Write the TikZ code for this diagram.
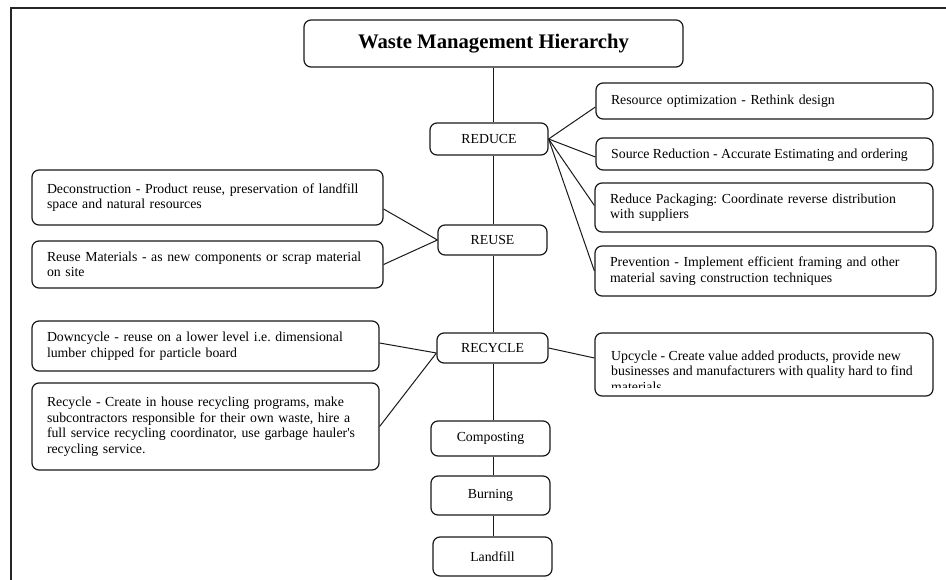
\documentclass[tikz,border=0pt]{standalone}
\usepackage{fontspec}
\setmainfont{Liberation Serif}
\frenchspacing
% straight apostrophe, set as a glyph so the TeX quote mapping leaves it alone
\newcommand\straightapos{\XeTeXglyph\XeTeXcharglyph"27\relax}
\begin{document}
\begin{tikzpicture}[x=1pt,y=-1pt,
  body/.style={font=\fontsize{13.8}{15.5}\selectfont\frenchspacing},
  box/.style={draw=black!90, line width=1.2pt, rounded corners=7pt,
    inner xsep=15pt, inner ysep=0pt, align=left, body},
  stage/.style={box, align=center, inner xsep=0pt},
  link/.style={draw=black!90, line width=1pt}]
\useasboundingbox (0,0) rectangle (946,580);

% page frame
\draw[line width=1.8pt, black!85] (11,580) -- (11,8) -- (946,8);

% title and the main hierarchy
\node[stage, minimum width=379pt, minimum height=47pt,
  font=\fontsize{20.7}{24}\selectfont\bfseries] (title) at (493.5,43.5) {Waste Management Hierarchy};
\node[stage, minimum width=118pt, minimum height=32pt] (reduce)   at (489,139)    {REDUCE};
\node[stage, minimum width=109pt, minimum height=30pt] (reuse)    at (492.5,240)  {REUSE};
\node[stage, minimum width=111pt, minimum height=30pt] (recycle)  at (492.5,348)  {RECYCLE};
\node[stage, minimum width=119pt, minimum height=35pt] (compost)  at (490.5,438.5) {Composting};
\node[stage, minimum width=119pt, minimum height=39pt] (burn)     at (490.5,495.5) {Burning};
\node[stage, minimum width=119pt, minimum height=39pt] (landfill) at (492.5,556.5) {Landfill};

% reduce strategies
\node[box, minimum width=337pt, minimum height=36pt, text width=307pt] (resopt) at (764.5,101)
  {Resource optimization - Rethink design};
\node[box, minimum width=337pt, minimum height=32pt] (srcred) at (764.5,154) {};
\begin{scope}
  \clip (596,138) rectangle (933,161.5);
  \node[anchor=base west, inner sep=0pt, body] (srcredtext) at (611,159)
    {Source Reduction - Accurate Estimating and ordering};
\end{scope}
\node[box, minimum width=338pt, minimum height=49pt, text width=308pt] (pack) at (764,207.5)
  {Reduce Packaging: Coordinate reverse distribution\\with suppliers};
\node[box, minimum width=341pt, minimum height=50pt, text width=311pt] (prev) at (765.5,271)
  {Prevention - Implement efficient framing and other\\material saving construction techniques};

% reuse strategies
\node[box, minimum width=351pt, minimum height=55pt, text width=321pt] (decon) at (207.5,197.5)
  {Deconstruction - Product reuse, preservation of landfill\\space and natural resources};
\node[box, minimum width=351pt, minimum height=47pt, text width=321pt] (reusemat) at (207.5,264.5)
  {Reuse Materials - as new components or scrap material\\on site};

% recycle strategies
\node[box, minimum width=347pt, minimum height=50pt, text width=317pt] (down) at (205.5,346)
  {Downcycle - reuse on a lower level i.e. dimensional\\lumber chipped for particle board};
\node[box, minimum width=347pt, minimum height=87pt, text width=317pt] (recyc) at (205.5,426.5)
  {Recycle - Create in house recycling programs, make\\subcontractors responsible for their own waste, hire a\\full service recycling coordinator, use garbage hauler\straightapos s\\recycling service.};
\node[box, minimum width=338pt, minimum height=63pt] (upcyc) at (764,364.5) {};
\begin{scope}
  \clip (595,333) rectangle (933,387);
  \node[anchor=north west, inner sep=0pt, align=left, body] (upcyctext) at (611,350.5)
    {Upcycle - Create value added products, provide new\\businesses and manufacturers with quality hard to find\\materials};
\end{scope}

% vertical trunk
\draw[link] (title.south) -- (title.south |- reduce.north);
\draw[link] (title.south |- reduce.south) -- (title.south |- reuse.north);
\draw[link] (title.south |- reuse.south) -- (title.south |- recycle.north);
\draw[link] (title.south |- recycle.south) -- (title.south |- compost.north);
\draw[link] (title.south |- compost.south) -- (title.south |- burn.north);
\draw[link] (title.south |- burn.south) -- (title.south |- landfill.north);

% branches
\draw[link] (reduce.east) -- ([yshift=-6pt]resopt.west);
\draw[link] (reduce.east) -- ([yshift=-3pt]srcred.west);
\draw[link] (reduce.east) -- ([yshift=2pt]pack.west);
\draw[link] (reduce.east) -- (prev.west);
\draw[link] (reuse.west) -- ([yshift=-11.5pt]decon.east);
\draw[link] (reuse.west) -- (reusemat.east);
\draw[link] ([yshift=-5pt]recycle.west) -- ([yshift=3pt]down.east);
\draw[link] ([yshift=-5pt]recycle.west) -- (recyc.east);
\draw[link] (recycle.east) -- ([yshift=6.5pt]upcyc.west);
\end{tikzpicture}
\end{document}
